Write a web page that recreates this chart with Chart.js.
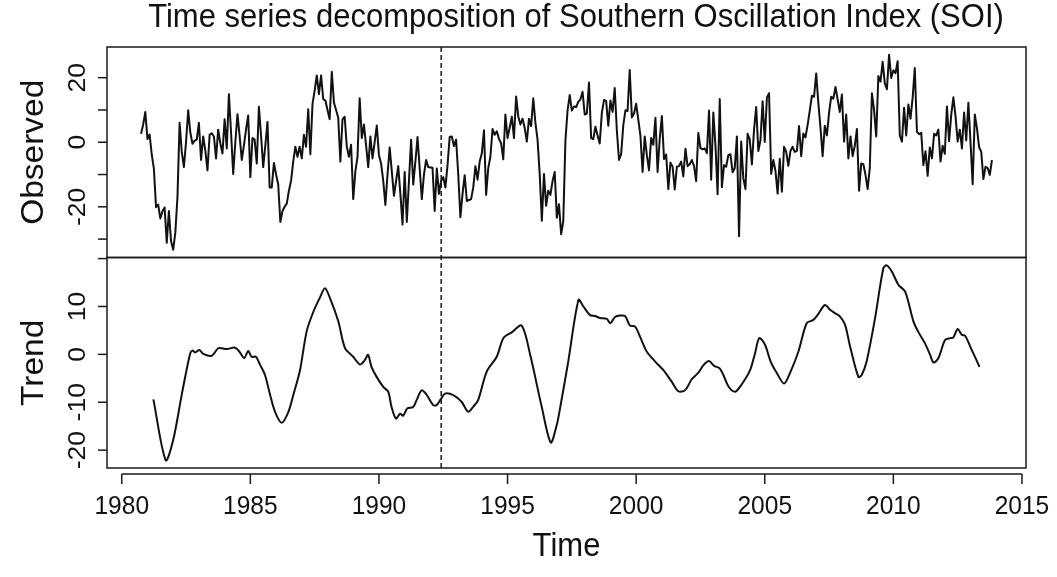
<!DOCTYPE html>
<html>
<head>
<meta charset="utf-8">
<title>SOI decomposition</title>
<script src="https://cdn.jsdelivr.net/npm/chart.js@4.4.1/dist/chart.umd.min.js"></script>
<style>
  body { margin: 0; background: #fff; }
</style>
</head>
<body>
<canvas id="soi" width="1057" height="577"></canvas>
<script>
// observed SOI, one value per month, first month sits at 1980.75 on the time axis
const obsStart = 1980.75;
const observed = [
  2.6, 5.5, 9.4, 1.0, 2.4, -3.8, -8.2, -20.1, -19.3, -23.6, -21.4, -20.2,
  -31.1, -21.3, -30.6, -33.3, -28.0, -17.0, 6.0, -3.0, -7.7, 0.1, 9.9, 3.0,
  -0.5, 0.5, 0.8, 6.0, -5.5, 1.8, -2.6, -8.7, 2.3, 2.8, 1.8, -5.0,
  3.9, -0.3, -3.5, 7.1, -1.9, 14.9, 3.0, -9.8, 0.0, 8.7, 2.0, -5.5,
  -1.0, 4.0, 8.3, -10.8, 1.3, 0.8, -6.6, 11.0, 2.0, -7.7, -1.0, 6.3,
  -14.0, -14.0, -6.4, -10.0, -13.0, -24.7, -21.3, -20.0, -19.0, -15.0, -11.9, -6.0,
  -1.4, -4.5, -1.4, -5.0, 2.3, -1.4, 10.2, -3.7, 11.8, 16.0, 20.7, 14.9,
  20.7, 13.4, 12.9, 10.0, 7.1, 21.8, 12.3, 10.0, 7.6, -6.0, 7.1, 7.9,
  -1.3, -4.5, -0.8, -17.6, -9.0, -4.5, 13.6, 1.3, 5.5, -1.0, -7.7, 1.8,
  -5.0, 0.0, 5.2, -4.0, -6.6, -11.9, -19.4, -10.0, -1.6, -9.0, -16.6, -12.0,
  -7.4, -16.0, -25.5, -9.2, -24.7, -12.0, 0.8, -13.1, -6.0, 1.6, -8.0, -17.6,
  -10.0, -5.5, -7.7, -7.8, -7.9, -21.3, -8.1, -16.0, -12.0, -10.8, -14.0, -7.1,
  1.6, 1.8, -1.2, 0.8, -10.0, -23.2, -16.0, -10.2, -18.2, -17.9, -17.6, -14.0,
  -7.4, -11.6, -6.0, -3.4, 3.7, -16.3, -8.0, -4.5, 4.1, 2.3, 3.4, 1.0,
  -0.3, -5.3, 8.6, 1.3, 4.5, 7.9, 1.3, 14.2, 8.0, 5.5, 7.3, 4.4,
  0.2, 7.3, 5.0, 13.6, 6.0, 0.8, -9.8, -24.3, -9.8, -19.7, -15.0, -16.3,
  -12.0, -9.2, -23.4, -19.2, -28.5, -24.4, 0.5, 9.9, 14.6, 9.8, 11.1, 10.9,
  12.5, 13.3, 15.6, 8.6, 8.9, 18.5, 1.3, 1.0, 4.8, 2.1, -0.4, 9.1,
  13.1, 12.8, 5.1, 12.9, 9.4, 16.8, 3.6, -5.5, -3.7, 5.3, 9.9, 9.7,
  22.4, 7.7, 8.9, 11.9, 7.0, 2.0, -9.2, 1.8, -4.0, -8.7, 1.3, -0.8,
  7.6, -9.2, 1.0, 8.1, -5.2, -3.8, -14.5, -6.3, -7.6, -14.6, -7.6, -7.4,
  -6.0, -10.6, -2.0, -7.4, -6.8, -5.5, -7.4, -12.0, 2.9, -1.8, -2.2, -1.9,
  -3.4, 9.8, -11.6, 9.2, -1.0, -16.1, 13.4, -13.9, -7.1, -7.6, -4.0, -3.7,
  -9.3, -8.0, 1.8, -29.1, 0.2, -11.2, -14.5, 2.6, 0.9, -6.9, 3.9, 10.9,
  -2.7, 0.6, 12.7, 0.1, 13.8, 15.2, -9.8, -5.5, -8.9, -15.9, -5.1, -15.3,
  -1.4, -3.0, -7.3, -2.7, -1.4, -3.0, -2.7, 5.0, -4.3, 2.7, 1.5, 5.4,
  9.8, 14.4, 14.1, 21.3, 12.2, 4.5, -4.3, 5.1, 2.1, 9.1, 14.1, 13.5,
  17.1, 13.3, 9.4, 14.8, 0.2, 8.6, -5.0, 1.8, -4.3, -1.1, 4.1, -15.0,
  -6.6, -6.8, -10.1, -14.5, -8.0, 15.2, 10.0, 1.8, 20.5, 18.8, 24.9, 18.3,
  16.4, 27.1, 19.9, 22.3, 21.4, 25.1, 2.1, 0.2, 10.7, 2.1, 11.7, 7.3,
  13.8, 23.0, 3.2, 2.5, 2.9, -7.1, -2.8, -10.4, -1.6, -5.0, 2.6, 2.1,
  3.9, -6.0, -1.1, -3.6, 11.1, 0.3, 8.5, 13.9, 8.1, 0.2, 3.9, -1.9,
  9.2, 0.6, 12.2, 0.0, -13.0, 8.6, 4.4, -1.5, -3.0, -11.4, -7.6, -8.0,
  -10.1, -5.5
];

// trend component
const trendTime = [
  1981.23, 1981.71, 1982.0, 1982.33, 1982.66, 1982.76, 1982.85, 1983.02, 1983.17, 1983.5,
  1983.76, 1984.08, 1984.4, 1984.57, 1984.76, 1984.92, 1985.05, 1985.22, 1985.38, 1985.57,
  1985.77, 1985.96, 1986.22, 1986.48, 1986.67, 1986.93, 1987.19, 1987.45, 1987.71, 1987.9,
  1988.1, 1988.42, 1988.68, 1989.0, 1989.26, 1989.45, 1989.58, 1989.71, 1989.91, 1990.17,
  1990.36, 1990.49, 1990.66, 1990.82, 1990.94, 1991.1, 1991.33, 1991.46, 1991.66, 1991.85,
  1992.11, 1992.24, 1992.4, 1992.57, 1992.89, 1993.21, 1993.47, 1993.67, 1993.86, 1994.19,
  1994.58, 1994.84, 1995.16, 1995.55, 1995.88, 1996.33, 1996.68, 1996.91, 1997.04, 1997.36,
  1997.76, 1997.95, 1998.21, 1998.4, 1998.6, 1998.86, 1998.99, 1999.18, 1999.37, 1999.57,
  1999.76, 1999.96, 2000.15, 2000.41, 2000.74, 2001.06, 2001.38, 2001.64, 2001.9, 2002.16,
  2002.42, 2002.61, 2002.83, 2003.03, 2003.24, 2003.39, 2003.59, 2003.85, 2004.1, 2004.43,
  2004.62, 2004.79, 2005.01, 2005.23, 2005.47, 2005.75, 2005.98, 2006.31, 2006.63, 2006.89,
  2007.08, 2007.34, 2007.54, 2007.73, 2007.93, 2008.12, 2008.32, 2008.64, 2008.77, 2008.96,
  2009.29, 2009.61, 2009.74, 2009.94, 2010.2, 2010.46, 2010.78, 2010.97, 2011.23, 2011.43,
  2011.56, 2011.75, 2012.01, 2012.21, 2012.33, 2012.5, 2012.66, 2012.79, 2013.05, 2013.35
];
const trendValue = [
  -9.4, -22.1, -17.9, -8.5, 0.2, 0.8, 0.4, 0.9, 0.1, -0.3,
  1.3, 1.1, 1.4, 0.6, -0.8, 0.7, -0.5, -0.5, -2.2, -4.3,
  -8.5, -12.0, -14.3, -12.0, -8.5, -3.3, 4.8, 8.9, 11.9, 13.8,
  11.7, 6.9, 1.3, -0.5, -2.1, -1.2, -0.1, -2.6, -4.7, -6.8,
  -7.8, -11.0, -13.4, -12.4, -12.8, -11.3, -11.0, -9.6, -7.5, -8.4,
  -10.6, -10.6, -9.4, -8.2, -8.5, -9.9, -12.0, -10.9, -9.5, -3.6,
  -0.5, 3.4, 4.6, 6.0, -0.1, -11.0, -18.4, -14.8, -11.3, -1.5,
  11.4, 10.0, 8.2, 8.0, 7.6, 7.4, 6.5, 7.8, 8.1, 8.0,
  6.0, 5.8, 3.7, 0.6, -1.5, -3.3, -5.7, -7.7, -7.5, -5.2,
  -3.8, -2.3, -1.4, -2.4, -2.9, -4.3, -6.7, -7.8, -6.3, -3.3,
  0.2, 3.4, 2.0, -1.5, -3.9, -6.1, -3.9, 0.6, 6.5, 7.2,
  8.4, 10.3, 9.3, 8.6, 7.9, 6.2, 1.6, -4.7, -4.3, -1.5,
  7.6, 18.0, 18.6, 17.3, 14.5, 13.1, 6.9, 4.7, 2.3, -0.1,
  -1.7, -0.8, 3.0, 3.4, 3.5, 5.3, 4.1, 3.9, 0.9, -2.6
];

const xTicks = [1980, 1985, 1990, 1995, 2000, 2005, 2010, 2015];
const obsTicks = [-30, -20, -10, 0, 10, 20];
const obsLabels = [-20, 0, 20];
const trendTicks = [-20, -10, 0, 10, 20];
const trendLabels = [-20, -10, 0, 10];
const breakYear = 1992.42;

const FONT = '"Liberation Sans", Arial, Helvetica, sans-serif';
const SQUEEZE = 0.926; // the reference text is a bit narrower than it is tall

// R style frame: boxes, outside ticks, rotated y labels, offset time axis
const rFrame = {
  id: 'rFrame',
  afterDatasetsDraw(chart) {
    const ctx = chart.ctx;
    const {x, yObs, yTr} = chart.scales;
    const left = chart.chartArea.left;
    const right = chart.chartArea.right;
    ctx.save();
    ctx.strokeStyle = '#1a1a1a';
    ctx.fillStyle = '#111';
    ctx.lineWidth = 1.5;

    [yObs, yTr].forEach(s => ctx.strokeRect(left, s.top, right - left, s.bottom - s.top));

    const bx = x.getPixelForValue(breakYear);
    ctx.setLineDash([5, 3]);
    ctx.beginPath();
    ctx.moveTo(bx, yObs.top);
    ctx.lineTo(bx, yTr.bottom);
    ctx.stroke();
    ctx.setLineDash([]);

    function text(str, px, py, size, rotated) {
      ctx.save();
      ctx.font = size + 'px ' + FONT;
      ctx.textAlign = 'center';
      ctx.textBaseline = 'middle';
      ctx.translate(px, py);
      ctx.scale(SQUEEZE, 1);
      if (rotated) ctx.rotate(-Math.PI / 2);
      ctx.fillText(str, 0, 0);
      ctx.restore();
    }

    function yAxis(scale, ticks, labels) {
      ticks.forEach(v => {
        const py = scale.getPixelForValue(v);
        ctx.beginPath();
        ctx.moveTo(left, py);
        ctx.lineTo(left - 9, py);
        ctx.stroke();
      });
      labels.forEach(v => text(String(v), left - 28.5, scale.getPixelForValue(v), 26.5, true));
    }
    yAxis(yObs, obsTicks, obsLabels);
    yAxis(yTr, trendTicks, trendLabels);

    // time axis sits a little below the lower box
    const ay = yTr.bottom + 6;
    ctx.beginPath();
    ctx.moveTo(x.getPixelForValue(xTicks[0]), ay);
    ctx.lineTo(x.getPixelForValue(xTicks[xTicks.length - 1]), ay);
    ctx.stroke();
    xTicks.forEach(t => {
      const px = x.getPixelForValue(t);
      ctx.beginPath();
      ctx.moveTo(px, ay);
      ctx.lineTo(px, ay + 10);
      ctx.stroke();
      text(String(t), px, 507, 26.5, false);
    });

    text('Time', (left + right) / 2, 547, 33.5, false);
    text('Time series decomposition of Southern Oscillation Index (SOI)', 576, 17.5, 33.5, false);
    text('Observed', 34, (yObs.top + yObs.bottom) / 2, 33.5, true);
    text('Trend', 34, (yTr.top + yTr.bottom) / 2, 33.5, true);
    ctx.restore();
  }
};

const obsPoints = observed.map((v, i) => ({x: obsStart + i / 12, y: v}));
const trendPoints = trendTime.map((t, i) => ({x: t, y: trendValue[i]}));

new Chart(document.getElementById('soi'), {
  type: 'line',
  data: {
    datasets: [
      {
        label: 'Observed',
        data: obsPoints,
        yAxisID: 'yObs',
        borderColor: '#111',
        borderWidth: 2,
        borderJoinStyle: 'round',
        pointRadius: 0,
        tension: 0
      },
      {
        label: 'Trend',
        data: trendPoints,
        yAxisID: 'yTr',
        borderColor: '#111',
        borderWidth: 2,
        borderJoinStyle: 'round',
        pointRadius: 0,
        tension: 0.3
      }
    ]
  },
  options: {
    responsive: false,
    animation: false,
    layout: {padding: {left: 107, right: 31, top: 47, bottom: 109}},
    plugins: {legend: {display: false}, tooltip: {enabled: false}},
    scales: {
      x: {type: 'linear', min: 1979.427, max: 2015.157, display: false},
      yTr: {type: 'linear', min: -23.73, max: 20.23, stack: 'panels', display: false},
      yObs: {type: 'linear', min: -35.7, max: 29.5, stack: 'panels', display: false}
    }
  },
  plugins: [rFrame]
});
</script>
</body>
</html>
